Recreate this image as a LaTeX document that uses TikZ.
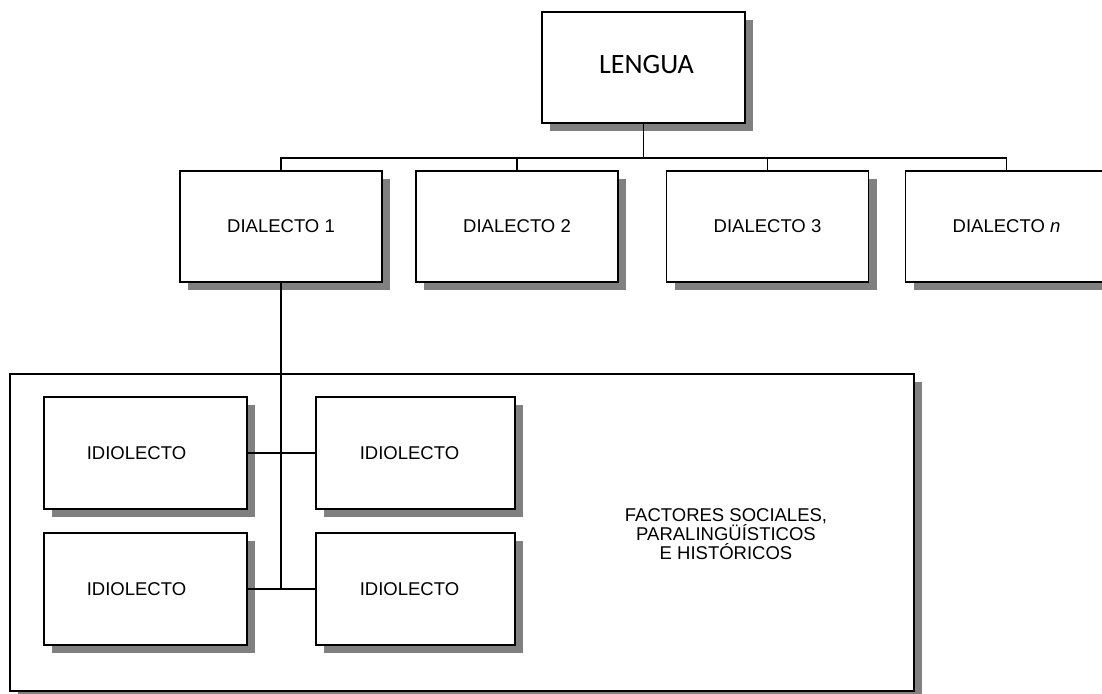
\documentclass[tikz,border=0pt]{standalone}
\usepackage{fontspec}
\setmainfont{Liberation Sans}
\newfontfamily\calibrifont{Carlito}
\usetikzlibrary{shadows}
\definecolor{shade}{HTML}{808080}
\tikzset{
  conn/.style={line width=1.6pt},
  sbox/.style={draw, line width=1.6pt, fill=white, rectangle, inner sep=0pt, outer sep=0pt,
    font=\fontsize{18.5}{19.5}\selectfont, align=center,
    drop shadow={shadow xshift=8pt, shadow yshift=-8pt, opacity=1, fill=shade, draw=none}},
  dbox/.style={sbox, minimum width=202pt, minimum height=111pt},
  ibox/.style={sbox, minimum height=112pt},
  txt/.style={font=\fontsize{18.5}{19pt}\selectfont, align=center, inner sep=0pt}
}
\begin{document}
\begin{tikzpicture}[x=1pt,y=-1pt]
\useasboundingbox (0,0) rectangle (1102,693);
\clip (0,0) rectangle (1102,693);
% frame
\node[sbox, minimum width=904pt, minimum height=317pt] (frame) at (462,532.5) {};
% top
\node[sbox, minimum width=203pt, minimum height=111pt, font=\calibrifont\fontsize{28}{30}\selectfont] (lengua) at (643.5,67.5) {\hspace*{6pt}\raisebox{6pt}{LENGUA}};
\node[dbox] (d1) at (281,226.5) {DIALECTO 1};
\node[dbox] (d2) at (517,226.5) {DIALECTO 2};
\node[dbox] (d3) at (767.5,226.5) {DIALECTO 3};
\node[dbox] (dn) at (1006.5,226.5) {DIALECTO \textit{n}};
\coordinate (bus) at (644,158);
\draw[conn] (lengua.south) -- (lengua.south |- bus);
\draw[conn] (d1.north) -- (d1.north |- bus) -- (dn.north |- bus) -- (dn.north);
\draw[conn] (d2.north) -- (d2.north |- bus);
\draw[conn] (d3.north) -- (d3.north |- bus);
% idiolects
\node[ibox, minimum width=203pt] (i1) at (145.5,453) {\hspace*{-18pt}IDIOLECTO};
\node[ibox, minimum width=199pt] (i2) at (415.5,453) {\hspace*{-12pt}IDIOLECTO};
\node[ibox, minimum width=203pt] (i3) at (145.5,589) {\hspace*{-18pt}IDIOLECTO};
\node[ibox, minimum width=199pt] (i4) at (415.5,589) {\hspace*{-12pt}IDIOLECTO};
\draw[conn] (d1.south) -- (d1.south |- i3.east);
\draw[conn] (i1.east) -- (i2.west);
\draw[conn] (i3.east) -- (i4.west);
\node[txt] (factors) at (726,534) {FACTORES SOCIALES,\\PARALINGÜÍSTICOS\\E HISTÓRICOS};
\end{tikzpicture}
\end{document}
